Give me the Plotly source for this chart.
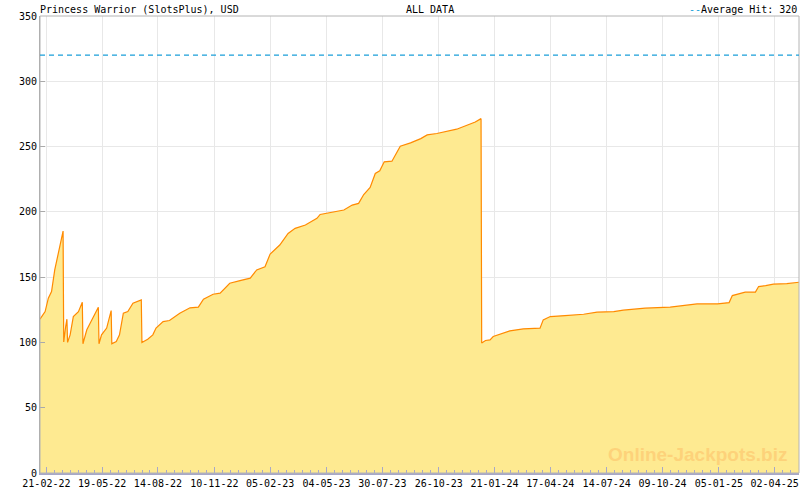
import pandas as pd
import plotly.graph_objects as go

# jackpot history
dates = [
    "2022-02-11", "2022-02-19", "2022-02-24", "2022-03-01", "2022-03-06", "2022-03-12",
    "2022-03-17", "2022-03-19", "2022-03-20", "2022-03-21", "2022-03-23", "2022-03-25",
    "2022-03-26", "2022-03-30", "2022-04-04", "2022-04-12", "2022-04-18", "2022-04-19",
    "2022-04-25", "2022-05-03", "2022-05-13", "2022-05-14", "2022-05-18", "2022-05-26",
    "2022-06-02", "2022-06-03", "2022-06-10", "2022-06-15", "2022-06-21", "2022-06-28",
    "2022-07-06", "2022-07-19", "2022-07-20", "2022-07-29", "2022-08-06", "2022-08-11",
    "2022-08-22", "2022-09-01", "2022-09-17", "2022-10-03", "2022-10-16", "2022-10-24",
    "2022-11-08", "2022-11-19", "2022-12-04", "2022-12-20", "2023-01-05", "2023-01-15",
    "2023-01-28", "2023-02-05", "2023-02-20", "2023-03-05", "2023-03-16", "2023-04-01",
    "2023-04-19", "2023-04-24", "2023-05-10", "2023-05-31", "2023-06-13", "2023-06-23",
    "2023-07-01", "2023-07-11", "2023-07-19", "2023-07-26", "2023-08-02", "2023-08-14",
    "2023-08-27", "2023-09-12", "2023-09-28", "2023-10-08", "2023-10-23", "2023-11-08",
    "2023-11-23", "2023-12-09", "2023-12-22", "2023-12-31", "2024-01-01", "2024-01-07",
    "2024-01-14", "2024-01-19", "2024-01-30", "2024-02-14", "2024-03-06", "2024-04-01",
    "2024-04-06", "2024-04-17", "2024-05-10", "2024-06-08", "2024-06-29", "2024-07-25",
    "2024-08-09", "2024-08-25", "2024-09-12", "2024-10-21", "2024-11-06", "2024-12-02",
    "2025-01-03", "2025-01-21", "2025-01-26", "2025-02-05", "2025-02-15", "2025-03-03",
    "2025-03-08", "2025-03-19", "2025-03-31", "2025-04-21", "2025-05-10",
]
values = [
    117.8, 123.6, 133.9, 139.0, 155.5, 169.5,
    181.0, 185.3, 100.3, 106.6, 112.0, 117.8,
    100.0, 105.8, 119.8, 123.6, 130.8, 99.0,
    109.7, 117.3, 127.0, 99.0, 105.8, 111.0,
    124.4, 99.0, 100.7, 105.8, 122.4, 123.6,
    130.0, 132.6, 100.0, 102.5, 105.8, 111.0,
    116.0, 116.8, 122.4, 126.5, 127.0, 133.1,
    136.9, 137.7, 145.3, 147.3, 149.2, 155.5,
    158.0, 167.7, 174.6, 183.5, 187.4, 189.9,
    195.0, 198.0, 199.3, 201.4, 205.2, 206.5,
    213.3, 218.7, 229.4, 231.4, 238.3, 238.8,
    250.3, 252.8, 256.1, 258.9, 260.0, 262.0,
    263.3, 266.3, 268.8, 271.4, 99.5, 101.5,
    102.0, 104.5, 106.6, 108.9, 110.4, 110.9,
    117.3, 119.8, 120.6, 121.6, 123.2, 123.6,
    124.7, 125.5, 126.2, 127.0, 128.0, 129.5,
    129.6, 130.5, 135.9, 137.2, 138.5, 138.6,
    142.8, 143.5, 144.6, 145.0, 146.1,
]
average_hit = 320
tick_dates = [
    "2022-02-21", "2022-05-19", "2022-08-14", "2022-11-10", "2023-02-05",
    "2023-05-04", "2023-07-30", "2023-10-26", "2024-01-21", "2024-04-17",
    "2024-07-14", "2024-10-09", "2025-01-05", "2025-04-02",
]
x_range = ["2022-02-11", "2025-05-10"]

FONT = "DejaVu Sans Mono"
AXIS_GREY = "#aaaaaa"
TICK_BLUE = "#a8a8c8"
AVG_BLUE = "#1a9fd9"

# minor ticks: 7 sub-intervals between each pair of labelled ticks
td = pd.to_datetime(tick_dates)
step = (td[1] - td[0]) / 7
minor_vals = [td[0] - step]
for a, b in zip(td[:-1], td[1:]):
    s = (b - a) / 7
    for k in range(1, 7):
        minor_vals.append(a + s * k)
for k in range(1, 4):
    minor_vals.append(td[-1] + step * k)

fig = go.Figure()
fig.add_trace(go.Scatter(
    x=dates,
    y=values,
    mode="lines",
    line=dict(color="#ff8a00", width=1.2),
    fill="tozeroy",
    fillcolor="#feea91",
    hoverinfo="skip",
))

# frame around the plot area
fig.add_shape(type="rect", xref="paper", yref="paper", x0=0, x1=1, y0=0, y1=1,
              line=dict(color="#b4b4b4", width=1, dash="solid"), layer="above")
# average hit line
fig.add_shape(type="line", xref="paper", x0=0, x1=1, yref="y", y0=average_hit, y1=average_hit,
              line=dict(color=AVG_BLUE, width=1.3, dash="5px,4px"))

fig.add_annotation(
    text="Online-Jackpots.biz", xref="paper", yref="paper", x=0.987, y=0.014,
    xanchor="right", yanchor="bottom", showarrow=False,
    font=dict(family="Liberation Sans", size=19, color="#fdd27a", weight="bold"),
)
fig.add_annotation(
    text="Princess Warrior (SlotsPlus), USD", xref="paper", yref="paper", x=0, y=1,
    xanchor="left", yanchor="bottom", yshift=-1, xshift=-2, showarrow=False,
    font=dict(family=FONT, size=10, color="#000000"),
)
fig.add_annotation(
    text="ALL DATA", xref="paper", yref="paper", x=0.479, y=1,
    xanchor="left", yanchor="bottom", yshift=-1, showarrow=False,
    font=dict(family=FONT, size=10, color="#000000"),
)
fig.add_annotation(
    text=f"<span style='color:{AVG_BLUE}'>--</span>Average Hit: {average_hit}",
    xref="paper", yref="paper", x=1, y=1,
    xanchor="right", yanchor="bottom", yshift=-1, showarrow=False,
    font=dict(family=FONT, size=10, color="#000000"),
)

fig.update_layout(
    width=800,
    height=490,
    margin=dict(l=40, r=1, t=16, b=17),
    plot_bgcolor="#ffffff",
    paper_bgcolor="#ffffff",
    showlegend=False,
    font=dict(family=FONT, size=10, color="#000000"),
    xaxis=dict(
        range=x_range,
        tickvals=tick_dates,
        tickformat="%d-%m-%y",
        ticks="inside",
        ticklen=6,
        tickcolor=TICK_BLUE,
        showgrid=True,
        gridcolor="#e8e8e8",
        showline=True,
        linecolor=TICK_BLUE,
        linewidth=2,
        zeroline=False,
        minor=dict(tickvals=minor_vals, ticks="inside", ticklen=3, tickcolor=TICK_BLUE, showgrid=False),
        tickfont=dict(family=FONT, size=10),
    ),
    yaxis=dict(
        range=[0, 350],
        dtick=50,
        ticks="inside",
        ticklen=5,
        tickcolor=AXIS_GREY,
        showgrid=True,
        gridcolor="#e8e8e8",
        showline=True,
        linecolor=AXIS_GREY,
        linewidth=1,
        zeroline=False,
        tickfont=dict(family=FONT, size=10),
    ),
)

fig.write_html(
    "out.html",
    config={"displayModeBar": False},
    post_script="document.body.style.margin='0px';",
)
